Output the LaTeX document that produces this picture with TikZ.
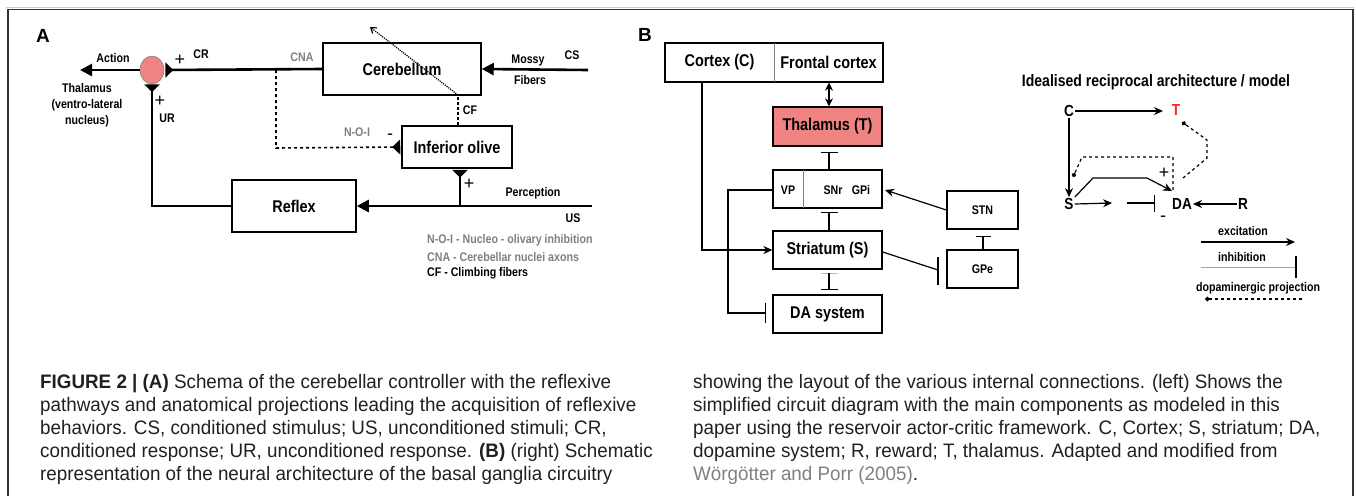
\documentclass[tikz,border=0pt]{standalone}
\usepackage{fontspec}
\setmainfont{Liberation Sans}
\newfontfamily\cond[FakeStretch=0.85]{Liberation Sans}
\newfontfamily\capt[FakeStretch=0.965]{Liberation Sans}
\usetikzlibrary{arrows.meta,shapes.geometric}
\definecolor{salmon}{HTML}{F08482}
\definecolor{framec}{HTML}{333333}
\definecolor{gtxt}{HTML}{7F7F7F}
\definecolor{captc}{HTML}{231F20}
\tikzset{
  lbl/.style={font=\cond\bfseries\fontsize{12.5}{15}\selectfont, inner sep=0pt},
  glbl/.style={lbl, text=gtxt},
  big/.style={font=\cond\bfseries\fontsize{17}{20}\selectfont, inner sep=0pt},
  sign/.style={font=\fontsize{18}{18}\selectfont, inner sep=0pt},
  panel/.style={font=\bfseries\fontsize{19}{22}\selectfont, inner sep=0pt},
  boxA/.style={draw, line width=1.5pt, inner sep=0pt},
  boxB/.style={draw, line width=1.3pt, inner sep=0pt},
  thick line/.style={line width=2.6pt},
  bigtri/.style={-{Triangle[length=12pt,width=12pt]}},
  syn/.style={-{Triangle[reversed,length=8pt,width=15pt]}},
  conn/.style={line width=1.2pt},
  exc/.style={conn, -{Stealth[length=9pt,width=8pt]}},
  inh/.style={conn, -{Bar[width=17pt,line width=1.4pt]}},
  dop/.style={conn, dashed, -{Circle[length=4.5pt]}},
  captline/.style={anchor=base west, inner sep=0pt, text=captc, font=\capt\fontsize{19.5}{23}\selectfont},
}
\begin{document}
\begin{tikzpicture}[x=1pt,y=-1pt]
\useasboundingbox (0,0) rectangle (1356,496);
% outer frame
\draw[gray!40, line width=1pt] (6,7.5) -- (1354,7.5);
\draw[framec, line width=1.5pt] (8,496) -- (8,9.5) -- (1353,9.5) -- (1353,496);

% ================= Panel A =================
\node[panel] (la) at (43,36) {A};
\node[boxA, minimum width=158pt, minimum height=52pt] (cereb) at (402,69) {};
\node[big] at (402,69) {Cerebellum};
\node[boxA, minimum width=110pt, minimum height=42pt, big] (olive) at (457,147) {Inferior olive};
\node[boxA, minimum width=124pt, minimum height=52pt, big] (reflex) at (294,206) {Reflex};
\node[ellipse, draw=gray, line width=0.6pt, fill=salmon, minimum width=24pt, minimum height=28pt, inner sep=0pt] (circ) at (152,70) {};

\coordinate (act) at (80,70);
\coordinate (cnaj) at (276,70);
\coordinate (cnab) at (276,148);
\coordinate (mossy) at (588,70);
\coordinate (usend) at (592,206);
\coordinate (pj) at (460,206);
\coordinate (cfb) at (458,95);
\coordinate (cft) at (370,27);

\draw[thick line, bigtri] (circ.west) -- (act);
\draw[thick line, syn, shorten >=1pt] (cereb.west) -- (circ.east);
\draw[thick line, syn] (reflex.west) -| (circ.south);
\draw[thick line, bigtri] (mossy) -- (cereb.east);
\draw[thick line, bigtri] (usend) -- (reflex.east);
\draw[thick line, syn, shorten >=1pt] (pj) -- (pj |- olive.south);
\draw[line width=1.6pt, dashed, syn, shorten >=1pt] (cnaj) -- (cnab) -- (olive.west);
\draw[line width=1.2pt, densely dashed] (olive.north -| cfb) -- (cfb);
\draw[line width=1.2pt, densely dotted, -{Straight Barb[length=5pt,width=7pt]}] (cfb) -- (cft);

\node[lbl] at (113,58) {Action};
\node[lbl, align=center, font=\cond\bfseries\fontsize{12.5}{16}\selectfont] at (87,105) {Thalamus\\(ventro-lateral\\nucleus)};
\node[sign] at (180,60) {+};
\node[lbl] at (201,54) {CR};
\node[glbl] at (302,57) {CNA};
\node[sign] at (160,101) {+};
\node[lbl] at (167,118) {UR};
\node[lbl] at (528,60) {Mossy};
\node[lbl] at (530,80) {Fibers};
\node[lbl] at (572,55) {CS};
\node[lbl] at (470,110) {CF};
\node[glbl] at (357,132) {N-O-I};
\node[sign] at (390,137) {-};
\node[sign] at (469,184) {+};
\node[lbl] at (533,193) {Perception};
\node[lbl] at (573,218) {US};
\node[glbl, anchor=west] at (427,240) {N-O-I - Nucleo - olivary inhibition};
\node[glbl, anchor=west] at (427,257) {CNA - Cerebellar nuclei axons};
\node[lbl, anchor=west] at (427,273) {CF - Climbing fibers};

% ================= Panel B =================
\node[panel] (lb) at (645,35) {B};
\node[boxB, minimum width=218pt, minimum height=39pt] (cortex) at (774,62.5) {};
\draw[gray, line width=0.6pt] (774,43) -- (774,82);
\node[big] at (719.5,62.5) {Cortex (C)};
\node[big] at (828.5,62.5) {Frontal cortex};
\node[boxB, fill=salmon, minimum width=109pt, minimum height=39pt, big] (thal) at (827.5,126.5) {Thalamus (T)};
\node[boxB, minimum width=109pt, minimum height=38pt] (vp) at (827.5,189) {};
\draw[gray, line width=0.6pt] (803,170) -- (803,208);
\node[lbl] at (788,190) {VP};
\node[lbl] at (833,190) {SNr};
\node[lbl] at (861,190) {GPi};
\node[boxB, minimum width=109pt, minimum height=38pt, big] (str) at (827.5,250) {Striatum (S)};
\node[boxB, minimum width=109pt, minimum height=38pt, big] (da) at (827.5,314) {DA system};
\node[boxB, minimum width=71pt, minimum height=38pt, lbl] (stn) at (982.5,210) {STN};
\node[boxB, minimum width=71pt, minimum height=38pt, lbl] (gpe) at (982.5,269) {GPe};

\coordinate (ctb) at (702,82);
\coordinate (thbar) at (829,152);
\coordinate (vpbar) at (829,212);
\coordinate (dtop) at (829,273);
\coordinate (dabar) at (829,290);
\coordinate (vpl) at (728,190);
\coordinate (dal) at (766,313);
\coordinate (stnbar) at (983,236);
\coordinate (gpebar) at (938,270);
\coordinate (gpi) at (885,190);

\draw[conn, {Stealth[length=8pt,width=8pt]}-{Stealth[length=8pt,width=8pt]}] (cortex.south -| 829,0) -- (thal.north -| 829,0);
\draw[inh] (vp.north -| thbar) -- (thbar);
\draw[inh] (str.north -| vpbar) -- (vpbar);
\draw[gray!50, line width=1pt] (820.5,273) -- (837.5,273);
\draw[inh] (dtop) -- (dabar);
\draw[exc] (ctb) |- (str.west);
\draw[conn, -{Bar[width=20pt,line width=1.4pt]}] (vp.west |- vpl) -- (vpl) |- (dal);
\draw[exc] (stn.west) -- (gpi);
\draw[conn, -{Bar[width=15pt,line width=1.4pt]}] (gpe.north -| stnbar) -- (stnbar);
\draw[conn] (str.east |- 0,252) -- (gpebar);
\draw[line width=1.4pt] (938,257) -- (938,285);

% ---- idealised model ----
\node[font=\cond\bfseries\fontsize{16.5}{19}\selectfont, inner sep=0pt] (title) at (1156,82) {Idealised reciprocal architecture / model};
\tikzset{ml/.style={font=\cond\bfseries\fontsize{16}{19}\selectfont, inner sep=1pt}}
\node[ml] (mc) at (1069,111) {C};
\node[ml, text=red!85!white] (mt) at (1176,110) {T};
\node[ml] (ms) at (1069,204) {S};
\node[ml] (mda) at (1182,204) {DA};
\node[ml] (mr) at (1243,204) {R};
\coordinate (sa) at (1112,203);
\coordinate (sb) at (1127,203);
\coordinate (sbar) at (1155,203);
\coordinate (td1) at (1207,140);
\coordinate (td2) at (1207,158);
\coordinate (td3) at (1183,178);
\coordinate (tdot) at (1182,122);
\coordinate (e1) at (1093,178);
\coordinate (e2) at (1147,178);
\coordinate (e3) at (1172,191);
\coordinate (d0) at (1173,190);
\coordinate (d1) at (1173,157);
\coordinate (d2) at (1082,157);
\coordinate (d3) at (1073,177);

\draw[exc] (mc.east) -- (1163,111);
\draw[exc] (mc.south) -- (ms.north);
\draw[exc] (ms.east) -- (sa);
\draw[inh] (sb) -- (sbar);
\draw[exc] (mr.west) -- (mda.east);
\draw[exc] (ms.north east) -- (e1) -- (e2) -- (e3);
\draw[dop] (td3) -- (td2) -- (td1) -- (tdot);
\draw[dop] (d0) -- (d1) -- (d2) -- (d3);
\node[sign] at (1164,173) {+};
\node[sign] at (1163,219) {-};

\node[lbl] (lexc) at (1243,231) {excitation};
\coordinate (x1) at (1201,242); \coordinate (x2) at (1295,242);
\draw[exc] (x1) -- (x2);
\node[lbl] (linh) at (1242,257) {inhibition};
\coordinate (i1) at (1201,267); \coordinate (i2) at (1296,267);
\draw[gray!70, line width=0.8pt] (i1) -- (i2);
\draw[line width=1.3pt] (1296,256) -- (1296,278);
\node[lbl] (ldop) at (1258,288) {dopaminergic projection};
\coordinate (p1) at (1302,299); \coordinate (p2) at (1205,299);
\draw[dop] (p1) -- (p2);

% ================= Caption =================
\node[captline] at (40,388) {\textbf{FIGURE 2 | (A)} Schema of the cerebellar controller with the reflexive};
\node[captline] at (40,411) {pathways and anatomical projections leading the acquisition of reflexive};
\node[captline] at (40,434) {behaviors. CS, conditioned stimulus; US, unconditioned stimuli; CR,};
\node[captline] at (40,457) {conditioned response; UR, unconditioned response. \textbf{(B)} (right) Schematic};
\node[captline] at (40,480) {representation of the neural architecture of the basal ganglia circuitry};
\node[captline] at (693,388) {showing the layout of the various internal connections. (left) Shows the};
\node[captline] at (693,411) {simplified circuit diagram with the main components as modeled in this};
\node[captline] at (693,434) {paper using the reservoir actor-critic framework. C, Cortex; S, striatum; DA,};
\node[captline] at (693,457) {dopamine system; R, reward; T, thalamus. Adapted and modified from};
\node[captline] at (693,480) {{\color{gray}Wörgötter and Porr (2005)}.};
\end{tikzpicture}
\end{document}
